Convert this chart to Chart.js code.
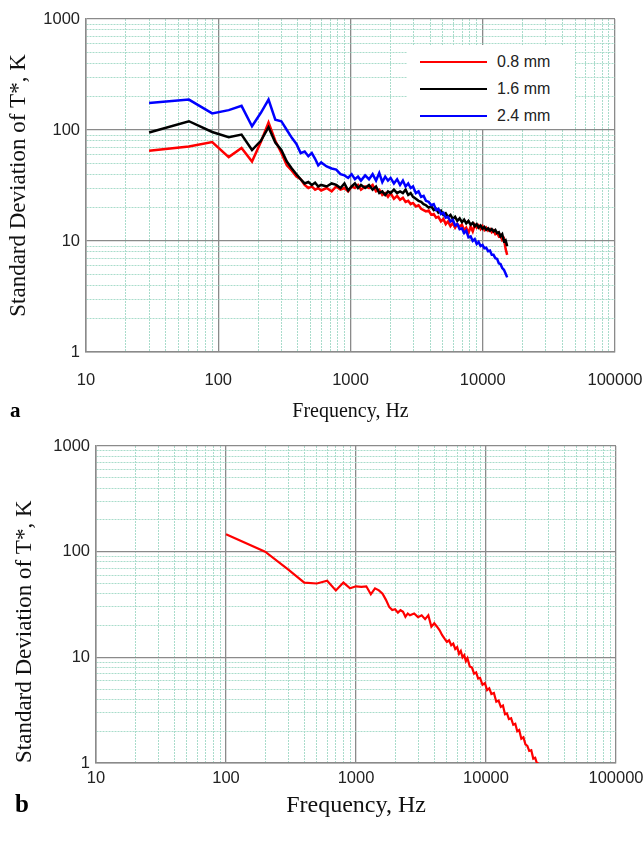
<!DOCTYPE html>
<html>
<head>
<meta charset="utf-8">
<title>Standard deviation of T* vs frequency</title>
<script src="https://cdn.jsdelivr.net/npm/chart.js@4.4.0/dist/chart.umd.min.js"></script>
<style>
  html, body { margin: 0; padding: 0; background: #fff; }
  #page { position: relative; width: 643px; height: 843px; overflow: hidden; background: #fff; }
  #page canvas { position: absolute; left: 0; }
  #chartA { top: 0; }
  #chartB { top: 425px; }
  .tag { position: absolute; font-family: "Liberation Serif", "Times New Roman", serif; font-weight: bold; line-height: 1; }
  #legendA { position: absolute; left: 407px; top: 45px; width: 168px; height: 84px; background: #fff;
             font-family: "Liberation Sans", Arial, sans-serif; font-size: 16px; color: #222; }
  .legend-row { position: absolute; left: 0; width: 168px; height: 20px; line-height: 20px; }
  .legend-row .swatch { position: absolute; left: 13px; top: 9px; width: 67px; height: 2px; }
  .legend-row .name { position: absolute; left: 90px; top: 0; white-space: nowrap; }
</style>
</head>
<body>
<div id="page">
  <canvas id="chartA" width="643" height="425"></canvas>
  <canvas id="chartB" width="643" height="418"></canvas>
  <div id="legendA"></div>
  <div class="tag" style="left:10px; top:400px; font-size:21px;">a</div>
  <div class="tag" style="left:15px; top:791px; font-size:25px;">b</div>
</div>
<script>
// decade labels on both axes
const freqDecades = [10, 100, 1000, 10000, 100000];
const sdDecades = [1, 10, 100, 1000];

// panel (a): three probe sizes, same frequency bins
const freqA = [
  30, 60, 90, 120, 150, 180, 210, 240, 270, 300,
  330, 360, 390, 420, 450, 480, 510, 540, 570, 600,
  660, 720, 780, 840, 900, 960, 1020, 1080, 1140, 1200,
  1290, 1380, 1470, 1560, 1650, 1740, 1830, 1920, 2010, 2130,
  2250, 2370, 2490, 2610, 2730, 2850, 2970, 3120, 3270, 3420,
  3570, 3720, 3900, 4080, 4260, 4440, 4620, 4830, 5040, 5250,
  5460, 5700, 5940, 6180, 6420, 6690, 6960, 7230, 7500, 7800,
  8100, 8400, 8700, 9000, 9300, 9630, 9960, 10290, 10620, 10980,
  11340, 11700, 12060, 12450, 12840, 13230, 13620, 14040, 14460, 14880,
  15300
];
const sd08 = [
  65, 71, 78, 57, 69, 52, 78, 117, 80, 62,
  48, 43, 38, 36, 32, 30, 31, 29, 30, 28.5,
  30, 28, 31, 29, 30, 28, 31, 30, 32, 29,
  31, 30, 32, 28, 29, 26, 27, 25, 27, 24,
  25.5, 23.5, 24.5, 22.5, 23, 21.5, 22, 20.5, 21, 19.5,
  19, 18.5, 18.8, 17.2, 17.5, 16.2, 16.5, 15, 15.8, 14.2,
  15, 13.6, 14.5, 13.2, 14.2, 13.5, 14, 12.5, 13.2, 11.8,
  13.5, 12.2, 14, 13.2, 13.8, 12.8, 13.6, 12.6, 13.2, 12.4,
  12.8, 12, 12.4, 11.5, 11.8, 11, 11.3, 10.2, 10.5, 8.5,
  7.5
];
const sd16 = [
  95, 120, 96, 86, 91, 66, 80, 106, 77, 66,
  52, 45, 40, 36, 33, 34, 32, 33.5, 31, 32,
  31, 33, 32, 30, 33, 28.5, 31, 33, 30, 32,
  30, 32, 29, 31, 27, 28, 26, 28, 27, 29,
  27, 28, 27, 29, 26, 27, 25, 24, 23, 22.5,
  21.5, 21, 20, 20.5, 19, 19.5, 18, 18.8, 17.2, 17.8,
  16.5, 17.2, 15.8, 16.5, 15.2, 16, 14.8, 15.6, 14.4, 15.2,
  14, 14.6, 13.6, 14.2, 13.2, 13.8, 12.9, 13.4, 12.6, 13,
  12.4, 12.8, 12.2, 12.6, 11.8, 12, 11, 11.5, 10, 10.2,
  9
];
const sd24 = [
  175, 188, 141, 151, 165, 108, 143, 188, 124, 120,
  100, 85, 75, 62, 64, 58, 62, 55, 48, 51,
  47, 45, 44, 40, 39, 37, 40, 36, 38, 35,
  39, 36, 40, 35, 41, 34, 38, 35, 37, 33,
  36, 32, 35, 31, 33, 30, 31, 27, 28, 25,
  25.5, 23, 22.5, 21, 21.5, 19, 19.5, 17.5, 18, 16.2,
  16.5, 15, 15.5, 13.8, 14.2, 12.8, 13, 11.8, 12.4, 10.8,
  11, 10, 10.4, 9.4, 9.8, 9, 9.2, 8.6, 8.7, 8.1,
  8.2, 7.5, 7.5, 7, 6.9, 6.3, 6.2, 5.7, 5.5, 5.1,
  4.7
];
const seriesNames = ['0.8 mm', '1.6 mm', '2.4 mm'];
const seriesColors = ['#ff0000', '#000000', '#0000ff'];

// panel (b): single probe
const freqB = [
  100, 200, 300, 400, 500, 600, 700, 800, 900, 1000,
  1100, 1200, 1300, 1400, 1500, 1600, 1700, 1800, 1900, 2000,
  2100, 2200, 2300, 2400, 2500, 2600, 2800, 3000, 3200, 3400,
  3600, 3800, 4000, 4200, 4400, 4600, 4800, 5000, 5200, 5400,
  5600, 5800, 6000, 6200, 6400, 6600, 6800, 7000, 7200, 7500,
  7800, 8100, 8400, 8700, 9000, 9400, 9800, 10200, 10600, 11000,
  11500, 12000, 12500, 13000, 13500, 14000, 14500, 15000, 15600, 16200,
  16800, 17400, 18000, 18700, 19400, 20100, 20800, 21500, 22300, 23100,
  23900, 24600, 25400
];
const sdB = [
  146, 100, 68, 51, 50, 53, 43, 51, 45, 47,
  46.5, 47, 39.5, 45, 43, 40, 35, 30, 28, 28.5,
  26.5, 28, 27, 24.2, 26, 25, 26, 24, 25, 23,
  25, 19.5, 21, 19.5, 18, 16.2, 15, 14, 14.5, 13,
  13.5, 12, 12.5, 10.8, 11.5, 10, 10.5, 9.2, 9.8, 8.2,
  8, 7, 7.2, 6.3, 6.4, 5.5, 5.7, 4.9, 5.1, 4.5,
  4.6, 3.8, 3.9, 3.4, 3.5, 2.9, 2.95, 2.6, 2.65, 2.3,
  2.35, 2, 2.05, 1.7, 1.75, 1.5, 1.45, 1.3, 1.32, 1.1,
  1.12, 1, 1
];

Chart.defaults.font.family = '"Liberation Sans", Arial, sans-serif';
Chart.defaults.color = '#222';

const MAJOR = '#8a8a8a';
const MINOR = '#a9dccb';

function withMinors(decades) {
  const out = [];
  decades.forEach((d, i) => {
    out.push(d);
    if (i < decades.length - 1) {
      for (let m = 2; m <= 9; m++) out.push(d * m);
    }
  });
  return out;
}

function logAxis(decades, extra) {
  const isMajor = v => decades.indexOf(v) !== -1;
  return Object.assign({
    type: 'logarithmic',
    min: decades[0],
    max: decades[decades.length - 1],
    afterBuildTicks: scale => {
      scale.ticks = withMinors(decades).map(v => ({ value: v }));
    },
    ticks: {
      autoSkip: false,
      maxRotation: 0,
      font: { size: 16.5 },
      color: '#222',
      callback: v => isMajor(v) ? String(v) : ''
    },
    grid: {
      drawTicks: false,
      color: ctx => isMajor(ctx.tick.value) ? MAJOR : MINOR,
      lineWidth: ctx => isMajor(ctx.tick.value) ? 1.3 : 1
    },
    border: {
      color: MAJOR,
      width: 1.5,
      dash: ctx => (ctx.tick && !isMajor(ctx.tick.value)) ? [2, 1] : []
    }
  }, extra);
}

function makeChart(id, datasets, layout) {
  const xAxis = logAxis(freqDecades, {
    // fixed axis box; end labels may hang past the plot edges
    afterFit: s => { s.height = layout.xHeight; s.paddingLeft = 0; s.paddingRight = 0; },
    title: {
      display: true,
      text: 'Frequency, Hz',
      color: '#111',
      font: { family: '"Liberation Serif", "Times New Roman", serif', size: layout.xTitleSize },
      padding: { top: 0, bottom: layout.xTitlePad }
    }
  });
  xAxis.ticks.padding = layout.xTickPad;

  const yAxis = logAxis(sdDecades, {
    afterFit: s => { s.width = layout.yWidth; s.paddingTop = 0; s.paddingBottom = 0; },
    title: {
      display: true,
      text: 'Standard Deviation of T*, K',
      align: layout.yTitleAlign,
      color: '#111',
      font: { family: '"Liberation Serif", "Times New Roman", serif', size: layout.yTitleSize },
      padding: { top: layout.yTitlePad, bottom: 0 }
    }
  });
  yAxis.ticks.padding = 6;

  return new Chart(document.getElementById(id), {
    type: 'line',
    data: { datasets: datasets },
    options: {
      responsive: false,
      animation: false,
      layout: { padding: { top: layout.top, right: layout.right, left: 0, bottom: 0 } },
      plugins: { legend: { display: false }, tooltip: { enabled: false } },
      elements: { point: { radius: 0 }, line: { tension: 0 } },
      scales: { x: xAxis, y: yAxis }
    }
  });
}

// panel (a)
const valuesA = [sd08, sd16, sd24];
const datasetsA = valuesA.map((vals, k) => ({
  label: seriesNames[k],
  data: freqA.map((f, i) => ({ x: f, y: vals[i] })),
  borderColor: seriesColors[k],
  borderWidth: 2.5,
  order: 2 - k
}));
makeChart('chartA', datasetsA, {
  top: 19, right: 28, yWidth: 86, xHeight: 73,
  xTickPad: 19, xTitleSize: 20, xTitlePad: 1,
  yTitleSize: 23, yTitlePad: 5, yTitleAlign: 'center'
});

// legend for panel (a)
const legend = document.getElementById('legendA');
[17, 44, 71].forEach((cy, k) => {
  const row = document.createElement('div');
  row.className = 'legend-row';
  row.style.top = (cy - 10) + 'px';
  row.innerHTML = '<span class="swatch" style="background:' + seriesColors[k] + '"></span>' +
                  '<span class="name">' + seriesNames[k] + '</span>';
  legend.appendChild(row);
});

// panel (b)
makeChart('chartB', [{
  label: 'T*',
  data: freqB.map((f, i) => ({ x: f, y: sdB[i] })),
  borderColor: '#ff0000',
  borderWidth: 2.2
}], {
  top: 21, right: 27, yWidth: 96, xHeight: 80,
  xTickPad: 6, xTitleSize: 24, xTitlePad: 23,
  yTitleSize: 23, yTitlePad: 11, yTitleAlign: 'start'
});
</script>
</body>
</html>
